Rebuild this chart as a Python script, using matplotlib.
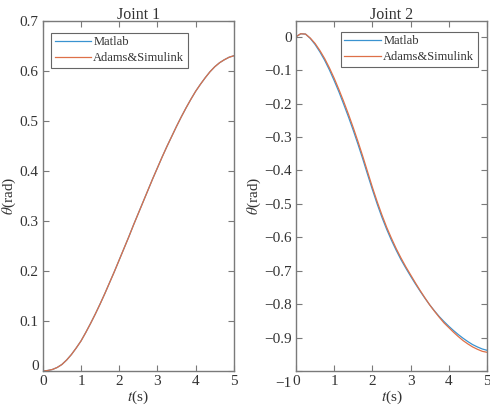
import numpy as np
import matplotlib
matplotlib.use('Agg')
import matplotlib.pyplot as plt
from matplotlib.transforms import ScaledTranslation

# time axis (s), read every 0.125 s
t = [0, 0.125, 0.25, 0.375, 0.5, 0.625, 0.75, 0.875, 1.0, 1.125, 1.25,
     1.375, 1.5, 1.625, 1.75, 1.875, 2.0, 2.125, 2.25, 2.375, 2.5,
     2.625, 2.75, 2.875, 3.0, 3.125, 3.25, 3.375, 3.5, 3.625, 3.75,
     3.875, 4.0, 4.125, 4.25, 4.375, 4.5, 4.625, 4.75, 4.875, 5.0]

# joint 1 (rad) - both curves lie on top of each other
j1_matlab = [0.000, 0.001, 0.003, 0.007, 0.013, 0.022, 0.033, 0.046, 0.060, 0.077, 0.095,
             0.114, 0.134, 0.155, 0.177, 0.199, 0.222, 0.245, 0.268, 0.292, 0.315,
             0.338, 0.361, 0.384, 0.406, 0.428, 0.449, 0.469, 0.489, 0.508, 0.526,
             0.543, 0.559, 0.573, 0.586, 0.598, 0.608, 0.616, 0.622, 0.627, 0.630]
j1_adams = [0.000, 0.001, 0.003, 0.007, 0.013, 0.022, 0.033, 0.046, 0.060, 0.077, 0.095,
            0.114, 0.134, 0.155, 0.177, 0.199, 0.222, 0.245, 0.268, 0.292, 0.315,
            0.338, 0.361, 0.384, 0.406, 0.428, 0.449, 0.469, 0.489, 0.508, 0.526,
            0.543, 0.559, 0.573, 0.586, 0.598, 0.608, 0.616, 0.622, 0.627, 0.630]

# joint 2 (rad)
j2_matlab = [0.000, 0.009, 0.008, -0.005, -0.023, -0.045, -0.070, -0.099, -0.131, -0.165, -0.202,
             -0.240, -0.280, -0.322, -0.366, -0.412, -0.457, -0.500, -0.540, -0.576, -0.609,
             -0.639, -0.667, -0.692, -0.716, -0.739, -0.761, -0.782, -0.802, -0.820, -0.837,
             -0.852, -0.866, -0.879, -0.891, -0.902, -0.912, -0.921, -0.928, -0.934, -0.938]
j2_adams = [0.000, 0.009, 0.008, -0.004, -0.020, -0.041, -0.065, -0.093, -0.124, -0.158, -0.194,
            -0.232, -0.272, -0.314, -0.358, -0.404, -0.450, -0.493, -0.533, -0.570, -0.603,
            -0.634, -0.662, -0.688, -0.712, -0.736, -0.759, -0.781, -0.802, -0.821, -0.839,
            -0.856, -0.870, -0.884, -0.897, -0.909, -0.919, -0.928, -0.935, -0.941, -0.944]

plt.rcParams['font.family'] = ['Liberation Serif', 'DejaVu Serif']
plt.rcParams['mathtext.fontset'] = 'stix'

blue = '#3a93d0'
orange = '#de7048'
grey = '#7a7a7a'
txt = '#333333'


def fmt(v):
    v = round(v, 1)
    if v == 0:
        return '0'
    s = '%g' % v
    return s.replace('-', '\u2212')


fig = plt.figure(figsize=(4.9, 4.11), dpi=100)
ax1 = fig.add_axes([0.0873, 0.0973, 0.390, 0.8523])
ax2 = fig.add_axes([0.604, 0.0973, 0.3898, 0.8523])

panels = [
    (ax1, j1_matlab, j1_adams, 'Joint 1', (0, 0.7), np.arange(0, 0.71, 0.1),
     'upper left', (0.042, 0.966)),
    (ax2, j2_matlab, j2_adams, 'Joint 2', (-1, 0.048), np.arange(-1, 0.01, 0.1),
     'upper right', (0.953, 0.969)),
]

for ax, m, a, title, ylim, yt, loc, anchor in panels:
    ax.plot(t, m, color=blue, lw=0.9, label='Matlab')
    ax.plot(t, a, color=orange, lw=0.9, label='Adams&Simulink')
    ax.set_xlim(0, 5)
    ax.set_ylim(*ylim)
    ax.set_xticks(range(6))
    ax.set_yticks(yt)
    ax.set_yticklabels([fmt(v) for v in yt])
    ax.tick_params(direction='in', top=True, right=True, length=4, width=0.8,
                   colors=grey, labelcolor=txt, labelsize=11, pad=3)
    for s in ax.spines.values():
        s.set_color(grey)
        s.set_linewidth(1.0)
    ax.set_title(title, fontsize=11.5, color=txt, pad=1)
    ax.set_xlabel(r'$t$(s)', fontsize=11, color=txt, labelpad=0)
    ax.set_ylabel(r'$\theta$(rad)', fontsize=11, color=txt, labelpad=1)
    leg = ax.legend(loc=loc, bbox_to_anchor=anchor, fontsize=9, frameon=True,
                    fancybox=False, handlelength=2.9, handletextpad=0.2,
                    borderpad=0.3, labelspacing=0.3, borderaxespad=0)
    leg.get_frame().set_edgecolor('#404040')
    leg.get_frame().set_linewidth(0.8)
    for tx in leg.get_texts():
        tx.set_color(txt)

# nudge corner labels like the original
lab = ax1.yaxis.get_major_ticks()[0].label1
lab.set_transform(lab.get_transform() + ScaledTranslation(0, 6 / 100, fig.dpi_scale_trans))
lab = ax2.yaxis.get_major_ticks()[0].label1
lab.set_transform(lab.get_transform() + ScaledTranslation(0, -11 / 100, fig.dpi_scale_trans))

fig.savefig('out.png', dpi=100)
